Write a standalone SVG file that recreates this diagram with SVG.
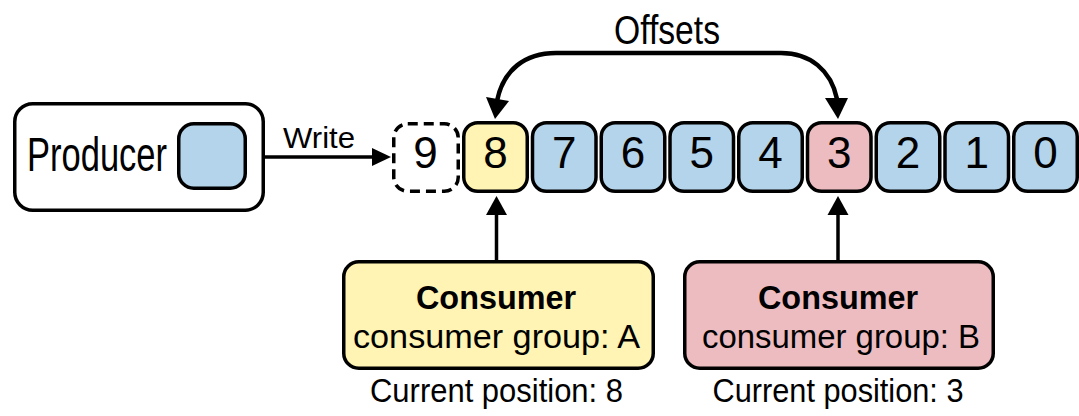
<svg xmlns="http://www.w3.org/2000/svg" width="1079" height="416" viewBox="0 0 1079 416">
  <style>
    .box { stroke: #000; stroke-width: 3.5; }
    .cell { stroke: #000; stroke-width: 3.5; }
    .blue { fill: #b3d4ea; }
    .yellow { fill: #fff4b3; }
    .pink { fill: #ecbcc0; }
    .white { fill: #fff; }
    .txt { font-family: "Liberation Sans", Arial, sans-serif; fill: #000; }
    .digit { font-size: 44px; text-anchor: middle; }
    .line { stroke: #000; stroke-width: 3.5; fill: none; }
    .arc { stroke: #000; stroke-width: 4.5; fill: none; }
    .head { fill: #000; }
  </style>

  <rect width="1079" height="416" fill="#fff"/>

  <!-- Producer -->
  <g id="producer">
    <rect class="box white" x="14.75" y="103.75" width="248.5" height="106.5" rx="18"/>
    <text class="txt" x="27" y="171" font-size="48" textLength="140" lengthAdjust="spacingAndGlyphs">Producer</text>
    <rect class="box blue" x="178.75" y="123.75" width="66.5" height="64.5" rx="15"/>
  </g>

  <!-- Log records, newest (9, not yet written) on the left -->
  <g id="record-9">
    <rect x="393.75" y="123.75" width="64.5" height="67.5" rx="14" fill="#fff" stroke="#000" stroke-width="3.5" stroke-dasharray="10 6"/>
    <text class="txt digit" x="425.5" y="168">9</text>
  </g>
  <g id="record-8">
    <rect class="cell yellow" x="463.75" y="122.75" width="63.5" height="68.5" rx="14"/>
    <text class="txt digit" x="495.5" y="168">8</text>
  </g>
  <g id="record-7">
    <rect class="cell blue" x="532.5" y="122.75" width="63.5" height="68.5" rx="14"/>
    <text class="txt digit" x="564.25" y="168">7</text>
  </g>
  <g id="record-6">
    <rect class="cell blue" x="601.25" y="122.75" width="63.5" height="68.5" rx="14"/>
    <text class="txt digit" x="633" y="168">6</text>
  </g>
  <g id="record-5">
    <rect class="cell blue" x="670" y="122.75" width="63.5" height="68.5" rx="14"/>
    <text class="txt digit" x="701.75" y="168">5</text>
  </g>
  <g id="record-4">
    <rect class="cell blue" x="738.75" y="122.75" width="63.5" height="68.5" rx="14"/>
    <text class="txt digit" x="770.5" y="168">4</text>
  </g>
  <g id="record-3">
    <rect class="cell pink" x="807.5" y="122.75" width="63.5" height="68.5" rx="14"/>
    <text class="txt digit" x="839.25" y="168">3</text>
  </g>
  <g id="record-2">
    <rect class="cell blue" x="876.25" y="122.75" width="63.5" height="68.5" rx="14"/>
    <text class="txt digit" x="908" y="168">2</text>
  </g>
  <g id="record-1">
    <rect class="cell blue" x="945" y="122.75" width="63.5" height="68.5" rx="14"/>
    <text class="txt digit" x="976.75" y="168">1</text>
  </g>
  <g id="record-0">
    <rect class="cell blue" x="1013.75" y="122.75" width="63.5" height="68.5" rx="14"/>
    <text class="txt digit" x="1045.5" y="168">0</text>
  </g>

  <!-- Consumers -->
  <g id="consumer-a">
    <rect class="box yellow" x="343.75" y="261.75" width="309.5" height="106.5" rx="15"/>
    <text class="txt" x="496" y="309" font-size="33" font-weight="bold" text-anchor="middle" textLength="160" lengthAdjust="spacingAndGlyphs">Consumer</text>
    <text class="txt" x="496.5" y="348" font-size="34" text-anchor="middle" textLength="287" lengthAdjust="spacingAndGlyphs">consumer group: A</text>
  </g>
  <text class="txt" x="496.5" y="402" font-size="33" text-anchor="middle" textLength="253" lengthAdjust="spacingAndGlyphs">Current position: 8</text>

  <g id="consumer-b">
    <rect class="box pink" x="684.75" y="261.75" width="308.5" height="106.5" rx="15"/>
    <text class="txt" x="838" y="309" font-size="33" font-weight="bold" text-anchor="middle" textLength="160" lengthAdjust="spacingAndGlyphs">Consumer</text>
    <text class="txt" x="841" y="348" font-size="34" text-anchor="middle" textLength="278" lengthAdjust="spacingAndGlyphs">consumer group: B</text>
  </g>
  <text class="txt" x="838" y="402" font-size="33" text-anchor="middle" textLength="251" lengthAdjust="spacingAndGlyphs">Current position: 3</text>

  <!-- Connectors -->
  <g id="connectors">
    <!-- write path -->
    <line class="line" x1="265" y1="157" x2="375" y2="157"/>
    <polygon class="head" points="391,157 372,148 372,166"/>
    <text class="txt" x="283" y="148" font-size="29" textLength="72" lengthAdjust="spacingAndGlyphs">Write</text>

    <!-- consumer read positions -->
    <line class="line" x1="496.5" y1="261" x2="496.5" y2="212"/>
    <polygon class="head" points="496.5,196 486,215 507,215"/>
    <line class="line" x1="838" y1="261" x2="838" y2="212"/>
    <polygon class="head" points="838,196 827.5,215 848.5,215"/>

    <!-- offsets span -->
    <path class="arc" d="M 497 101 C 503 70, 525 53, 556 53 L 781 53 C 810 53, 831 70, 837 99"/>
    <polygon class="head" points="495,119 486,97 509,101"/>
    <polygon class="head" points="838,119 825,98 848,98"/>
    <text class="txt" x="667" y="44" font-size="40" text-anchor="middle" textLength="106" lengthAdjust="spacingAndGlyphs">Offsets</text>
  </g>
</svg>
